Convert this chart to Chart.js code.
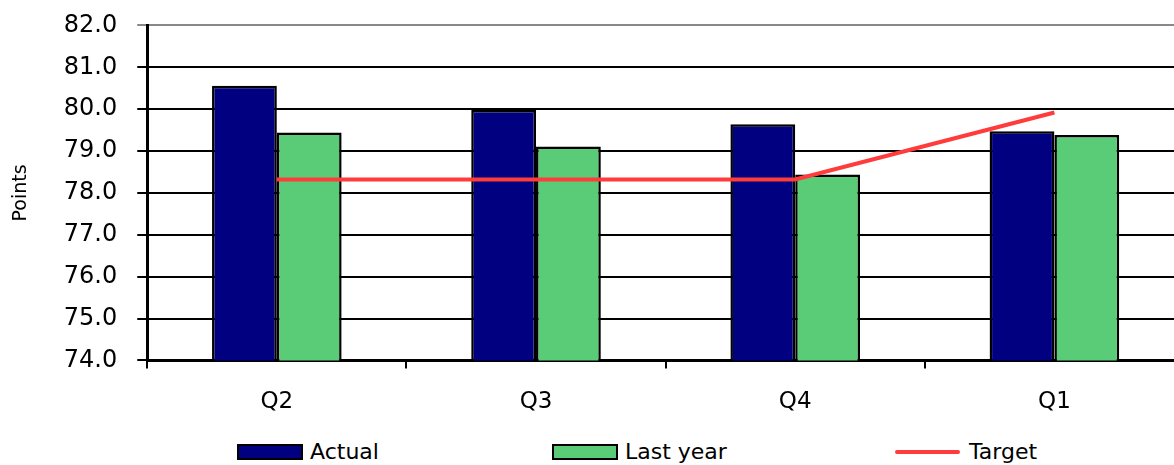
<!DOCTYPE html>
<html>
<head>
<meta charset="utf-8">
<script src="https://cdn.jsdelivr.net/npm/chart.js@4"></script>
<style>
  body { margin: 0; background: #fff; overflow: hidden; width: 1174px; height: 465px; }
  #wrap { position: absolute; left: 0; top: -9px; width: 1184px; height: 445px; }
  #legend { position: absolute; top: 439px; left: 0; width: 1174px; height: 26px;
    font-family: 'DejaVu Sans', sans-serif; font-size: 22px; color: #000; }
  .item { position: absolute; top: 0; display: flex; align-items: center; }
  .box { width: 62px; height: 12px; border: 2px solid #000; margin-right: 7px; }
  .line { width: 65px; height: 4px; margin-right: 9px; border-radius: 2px; }
</style>
</head>
<body>
<div id="wrap"><canvas id="myChart"></canvas></div>
<div id="legend"></div>
<script>
// Données
const categories = ['Q2', 'Q3', 'Q4', 'Q1'];
const actual = [80.56, 79.98, 79.64, 79.47];
const lastYear = [79.44, 79.11, 78.44, 79.38];
const target = [78.32, 78.32, 78.32, 79.92];
const yTicks = [74, 75, 76, 77, 78, 79, 80, 81, 82];

const navy = '#000080';
const green = '#5ACC78';
const red = '#FF3B3B';
const font = "'DejaVu Sans', sans-serif";

const ctx = document.getElementById('myChart').getContext('2d');
const myChart = new Chart(ctx, {
    data: {
        labels: categories,
        datasets: [{
            type: 'line',
            label: 'Target',
            data: target,
            borderColor: red,
            borderWidth: 4,
            pointRadius: 0,
            tension: 0,
            order: 0
        }, {
            type: 'bar',
            label: 'Actual',
            data: actual,
            backgroundColor: navy,
            borderColor: '#000',
            borderWidth: 2.5,
            categoryPercentage: 0.5,
            barPercentage: 1,
            order: 1
        }, {
            type: 'bar',
            label: 'Last year',
            data: lastYear,
            backgroundColor: green,
            borderColor: '#000',
            borderWidth: 2.5,
            categoryPercentage: 0.5,
            barPercentage: 1,
            order: 1
        }]
    },
    options: {
        responsive: true,
        maintainAspectRatio: false,
        animation: false,
        layout: { padding: { top: 4, left: 0, right: 0, bottom: 0 } },
        plugins: {
            legend: { display: false },
            tooltip: { enabled: false }
        },
        scales: {
            x: {
                offset: true,
                grid: { drawOnChartArea: false, drawTicks: true, tickLength: 8, offset: true, color: '#000', lineWidth: 2 },
                border: { color: '#000', width: 3 },
                ticks: { color: '#000', font: { family: font, size: 23 }, padding: 20 }
            },
            y: {
                min: 74,
                max: 82,
                afterBuildTicks: (axis) => { axis.ticks = yTicks.map((v) => ({ value: v })); },
                grid: {
                    color: (c) => c.tick && c.tick.value === 82 ? '#888' : '#000',
                    lineWidth: 2,
                    tickLength: 10
                },
                border: { color: '#000', width: 3 },
                ticks: {
                    color: '#000',
                    font: { family: font, size: 24 },
                    padding: 20,
                    callback: (v) => Number(v).toFixed(1)
                },
                title: { display: true, text: 'Points', color: '#000', font: { family: font, size: 19 }, padding: { top: 10, bottom: 11 } }
            }
        }
    }
});

// Légende en HTML (positions comme sur l'original)
const legendItems = [
    { label: 'Actual', color: navy, kind: 'box', left: 237 },
    { label: 'Last year', color: green, kind: 'box', left: 552 },
    { label: 'Target', color: red, kind: 'line', left: 895 }
];
const legend = document.getElementById('legend');
legendItems.forEach((it) => {
    const d = document.createElement('div');
    d.className = 'item';
    d.style.left = it.left + 'px';
    const sw = document.createElement('span');
    sw.className = it.kind;
    sw.style.background = it.color;
    const t = document.createElement('span');
    t.textContent = it.label;
    d.appendChild(sw);
    d.appendChild(t);
    legend.appendChild(d);
});
</script>
</body>
</html>
